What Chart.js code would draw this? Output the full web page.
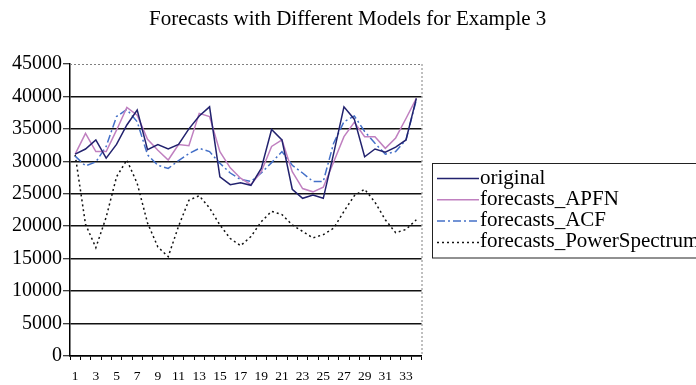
<!DOCTYPE html>
<html>
<head>
<meta charset="utf-8">
<script src="https://cdn.jsdelivr.net/npm/chart.js@4.4.1/dist/chart.umd.min.js"></script>
<style>
  html, body { margin: 0; padding: 0; background: #ffffff; }
  #wrap { width: 696px; height: 385px; }
</style>
</head>
<body>
<div id="wrap"><canvas id="c" width="696" height="385"></canvas></div>
<script>
// Time index of the series
const periods = ['1','2','3','4','5','6','7','8','9','10','11','12','13','14','15','16','17',
                 '18','19','20','21','22','23','24','25','26','27','28','29','30','31','32','33','34'];
// Only every other period is labelled on the x axis
const shownPeriods = ['1','3','5','7','9','11','13','15','17','19','21','23','25','27','29','31','33'];
const yTicks = [0, 5000, 10000, 15000, 20000, 25000, 30000, 35000, 40000, 45000];

const original = [31100, 31900, 33300, 30500, 32600, 35600, 37900, 31800, 32600, 31900, 32600, 35000,
                  37000, 38400, 27600, 26400, 26700, 26300, 28900, 34900, 33300, 25700, 24300, 24800,
                  24300, 31200, 38400, 36500, 30700, 31900, 31400, 32200, 33300, 39700];
const forecastsAPFN = [31100, 34300, 31500, 31500, 34800, 38300, 37100, 33400, 31700, 30200, 32600, 32400,
                       37400, 36900, 31500, 29000, 27400, 26400, 28400, 32300, 33300, 28400, 25800, 25300,
                       26000, 29900, 33800, 36000, 33800, 33800, 32000, 33600, 36600, 39700];
const forecastsACF = [30800, 29300, 29900, 32300, 36900, 38000, 36100, 31000, 29400, 28900, 30100, 31200,
                      32000, 31500, 29700, 28200, 27200, 26900, 28200, 29800, 31500, 29400, 28200, 26900,
                      26900, 32800, 36100, 37000, 34600, 32800, 31100, 31500, 33300, 39500];
const forecastsPowerSpectrum = [31000, 20300, 16700, 21400, 27600, 30200, 26600, 20500, 16800, 15300, 20000, 24000,
                                24700, 22800, 20200, 18100, 17000, 18400, 20700, 22300, 21800, 20200, 19200, 18200,
                                18700, 19700, 22300, 24700, 25700, 23700, 21000, 19000, 19500, 21000];

const chartTitle = 'Forecasts with Different Models for Example 3';
const serif = '"Liberation Serif", "Times New Roman", serif';

const seriesStyles = [
  { label: 'original', data: original, color: '#22226e', dash: [] },
  { label: 'forecasts_APFN', data: forecastsAPFN, color: '#c080c0', dash: [] },
  { label: 'forecasts_ACF', data: forecastsACF, color: '#4470c8', dash: [8, 3, 2, 3] },
  { label: 'forecasts_PowerSpectrum', data: forecastsPowerSpectrum, color: '#111111', dash: [2, 3] }
];

// Dotted grey border on the top and right of the plot area
const plotFrame = {
  id: 'plotFrame',
  beforeDatasetsDraw(chart) {
    const { ctx, chartArea: a } = chart;
    ctx.save();
    ctx.strokeStyle = '#808080';
    ctx.lineWidth = 1;
    ctx.setLineDash([2, 2]);
    ctx.beginPath();
    ctx.moveTo(a.left, a.top + 0.5);
    ctx.lineTo(a.right, a.top + 0.5);
    ctx.moveTo(a.right + 0.5, a.top);
    ctx.lineTo(a.right + 0.5, a.bottom);
    ctx.stroke();
    ctx.restore();
  }
};

// Title across the top of the canvas
const titleText = {
  id: 'titleText',
  afterDraw(chart) {
    const { ctx } = chart;
    ctx.save();
    ctx.font = '21px ' + serif;
    ctx.fillStyle = '#000';
    ctx.textAlign = 'left';
    ctx.textBaseline = 'alphabetic';
    ctx.fillText(chartTitle, 149, 25);
    ctx.restore();
  }
};

// Boxed legend to the right of the plot
const sideLegend = {
  id: 'sideLegend',
  afterDraw(chart) {
    const { ctx } = chart;
    ctx.save();
    ctx.strokeStyle = '#222';
    ctx.lineWidth = 1;
    ctx.setLineDash([]);
    ctx.strokeRect(432.5, 163.5, 320, 94.5);
    ctx.font = '21px ' + serif;
    ctx.fillStyle = '#000';
    ctx.textAlign = 'left';
    ctx.textBaseline = 'alphabetic';
    chart.data.datasets.forEach((ds, i) => {
      const base = 183.5 + i * 21.3;
      ctx.save();
      ctx.strokeStyle = ds.borderColor;
      ctx.lineWidth = ds.borderWidth;
      ctx.setLineDash(ds.borderDash || []);
      ctx.beginPath();
      ctx.moveTo(437, base - 5);
      ctx.lineTo(479, base - 5);
      ctx.stroke();
      ctx.restore();
      ctx.fillText(ds.label, 480, base);
    });
    ctx.restore();
  }
};

new Chart(document.getElementById('c').getContext('2d'), {
  type: 'line',
  data: {
    labels: periods,
    datasets: seriesStyles.map(s => ({
      label: s.label,
      data: s.data,
      borderColor: s.color,
      backgroundColor: s.color,
      borderWidth: 1.5,
      borderDash: s.dash,
      pointRadius: 0,
      tension: 0,
      fill: false
    }))
  },
  options: {
    responsive: false,
    animation: false,
    devicePixelRatio: 1,
    layout: { padding: { top: 64, right: 274.5, bottom: 0, left: 0 } },
    plugins: {
      legend: { display: false },
      title: { display: false },
      tooltip: { enabled: false }
    },
    scales: {
      x: {
        type: 'category',
        offset: true,
        grid: {
          offset: true,
          drawOnChartArea: false,
          drawTicks: true,
          tickLength: 4,
          tickColor: '#000',
          tickWidth: 1
        },
        border: { color: '#000', width: 1.5 },
        ticks: {
          autoSkip: false,
          maxRotation: 0,
          minRotation: 0,
          padding: 8,
          color: '#000',
          font: { family: serif, size: 13.5 },
          callback: (v, i) => shownPeriods.includes(periods[i]) ? periods[i] : ''
        },
        afterFit: s => { s.height = 29; }
      },
      y: {
        min: yTicks[0],
        max: yTicks[yTicks.length - 1],
        afterBuildTicks: s => { s.ticks = yTicks.map(v => ({ value: v })); },
        grid: {
          color: c => (c.tick && c.tick.value === 45000) ? 'rgba(0,0,0,0)' : '#111',
          lineWidth: 1.5,
          drawTicks: true,
          tickLength: 7,
          tickColor: '#000',
          tickWidth: 1
        },
        border: { color: '#000', width: 1.5 },
        ticks: {
          padding: 1,
          color: '#000',
          font: { family: serif, size: 20 },
          callback: v => String(v)
        },
        afterFit: s => { s.width = 70; }
      }
    }
  },
  plugins: [plotFrame, titleText, sideLegend]
});
</script>
</body>
</html>
